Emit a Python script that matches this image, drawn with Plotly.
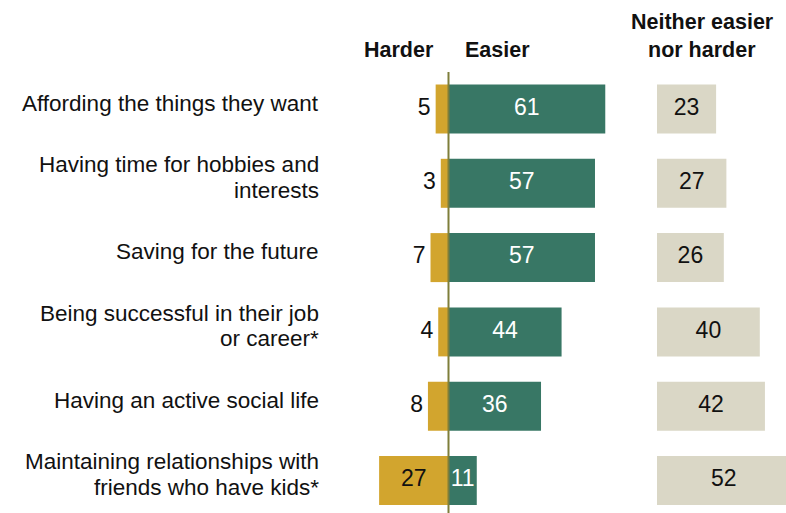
import plotly.graph_objects as go

# Survey items (top to bottom); "|" marks a line break in the label
categories = [
    "Affording the things they want",
    "Having time for hobbies and|interests",
    "Saving for the future",
    "Being successful in their job|or career*",
    "Having an active social life",
    "Maintaining relationships with|friends who have kids*",
]
harder = [5, 3, 7, 4, 8, 27]
easier = [61, 57, 57, 44, 36, 11]
neither = [23, 27, 26, 40, 42, 52]

GOLD = "#D2A52E"
GREEN = "#387765"
BEIGE = "#DAD7C6"
RULE = "#7E7E3A"
INK = "#111111"
FONT = "Liberation Sans, Arial, sans-serif"

# Canvas geometry (pixels)
W, H = 786, 513
PX_PER_PT = 2.57          # same scale for both bar groups
ZERO_PX = 448.5           # position of the easier/harder divide
PLOT_TOP = 72
FIRST_ROW_PX = 109
ROW_PX = 74.3
DIV_LEFT_PX, DIV_RIGHT_PX = 360, 630
NEI_LEFT_PX = 657
LABEL_GAP_PX = 5
LINE_PX = 25.5

x1_range = [(DIV_LEFT_PX - ZERO_PX) / PX_PER_PT, (DIV_RIGHT_PX - ZERO_PX) / PX_PER_PT]
x2_range = [0, (W - NEI_LEFT_PX) / PX_PER_PT]
y_range = [(H - FIRST_ROW_PX) / ROW_PX, (PLOT_TOP - FIRST_ROW_PX) / ROW_PX]
BAR_W = 49 / ROW_PX

rows = list(range(len(categories)))

fig = go.Figure()

fig.add_trace(go.Bar(
    y=rows, x=[-v for v in harder], orientation="h", width=BAR_W,
    marker=dict(color=GOLD, line=dict(width=0)), xaxis="x", yaxis="y",
    hoverinfo="skip", showlegend=False,
))
fig.add_trace(go.Bar(
    y=rows, x=easier, orientation="h", width=BAR_W,
    marker=dict(color=GREEN, line=dict(width=0)), xaxis="x", yaxis="y",
    hoverinfo="skip", showlegend=False,
))
fig.add_trace(go.Bar(
    y=rows, x=neither, orientation="h", width=BAR_W,
    marker=dict(color=BEIGE, line=dict(width=0)), xaxis="x2", yaxis="y",
    hoverinfo="skip", showlegend=False,
))

# Value labels
val_font = dict(family=FONT, size=23)
h_in = [i for i, v in enumerate(harder) if v >= 15]
h_out = [i for i, v in enumerate(harder) if v < 15]
fig.add_trace(go.Scatter(
    y=h_in, x=[-harder[i] / 2 for i in h_in], text=[str(harder[i]) for i in h_in],
    mode="text", textposition="middle center", textfont=dict(val_font, color=INK),
    xaxis="x", yaxis="y", cliponaxis=False, hoverinfo="skip", showlegend=False,
))
fig.add_trace(go.Scatter(
    y=h_out, x=[-harder[i] - LABEL_GAP_PX / PX_PER_PT for i in h_out],
    text=[str(harder[i]) for i in h_out],
    mode="text", textposition="middle left", textfont=dict(val_font, color=INK),
    xaxis="x", yaxis="y", cliponaxis=False, hoverinfo="skip", showlegend=False,
))
fig.add_trace(go.Scatter(
    y=rows, x=[v / 2 for v in easier], text=[str(v) for v in easier],
    mode="text", textposition="middle center", textfont=dict(val_font, color="white"),
    xaxis="x", yaxis="y", cliponaxis=False, hoverinfo="skip", showlegend=False,
))
fig.add_trace(go.Scatter(
    y=rows, x=[v / 2 for v in neither], text=[str(v) for v in neither],
    mode="text", textposition="middle center", textfont=dict(val_font, color=INK),
    xaxis="x2", yaxis="y", cliponaxis=False, hoverinfo="skip", showlegend=False,
))

# Divider between harder and easier
fig.add_shape(type="line", xref="x", yref="paper", x0=0, x1=0, y0=0, y1=1,
              line=dict(color=RULE, width=2), layer="above")

annotations = []
# Row labels, one annotation per line for tighter leading
for i, label in enumerate(categories):
    lines = label.split("|")
    n = len(lines)
    for j, line in enumerate(lines):
        offset = ((n - 1) / 2 - j) * LINE_PX
        annotations.append(dict(
            text=line, xref="paper", yref="y", x=321 / W, y=i, yshift=6 + offset,
            xanchor="right", yanchor="middle", align="right", showarrow=False,
            font=dict(family=FONT, size=22.5, color=INK),
        ))

def paper_y(px):
    return (H - px) / (H - PLOT_TOP)

head_font = dict(family=FONT, size=21.5, color=INK)
annotations.append(dict(text="<b>Harder</b>", xref="x", yref="paper", x=0, xshift=-13,
                        y=paper_y(49.7), xanchor="right", yanchor="middle",
                        showarrow=False, font=head_font))
annotations.append(dict(text="<b>Easier</b>", xref="x", yref="paper", x=0, xshift=14,
                        y=paper_y(49.7), xanchor="left", yanchor="middle",
                        showarrow=False, font=head_font))
annotations.append(dict(text="<b>Neither easier</b>", xref="paper", yref="paper",
                        x=702 / W, y=paper_y(21.7), xanchor="center", yanchor="middle",
                        showarrow=False, font=head_font))
annotations.append(dict(text="<b>nor harder</b>", xref="paper", yref="paper",
                        x=702 / W, y=paper_y(49.5), xanchor="center", yanchor="middle",
                        showarrow=False, font=head_font))

axis_off = dict(showgrid=False, zeroline=False, showticklabels=False, ticks="",
                showline=False, fixedrange=True)

fig.update_layout(
    width=W, height=H,
    margin=dict(l=0, r=0, t=PLOT_TOP, b=0, pad=0),
    paper_bgcolor="white", plot_bgcolor="white",
    barmode="overlay",
    xaxis=dict(axis_off, domain=[DIV_LEFT_PX / W, DIV_RIGHT_PX / W], range=x1_range, anchor="y"),
    xaxis2=dict(axis_off, domain=[NEI_LEFT_PX / W, 1], range=x2_range, anchor="y"),
    yaxis=dict(axis_off, range=y_range, anchor="x"),
    annotations=annotations,
    font=dict(family=FONT),
)

fig.write_html("out.html")
